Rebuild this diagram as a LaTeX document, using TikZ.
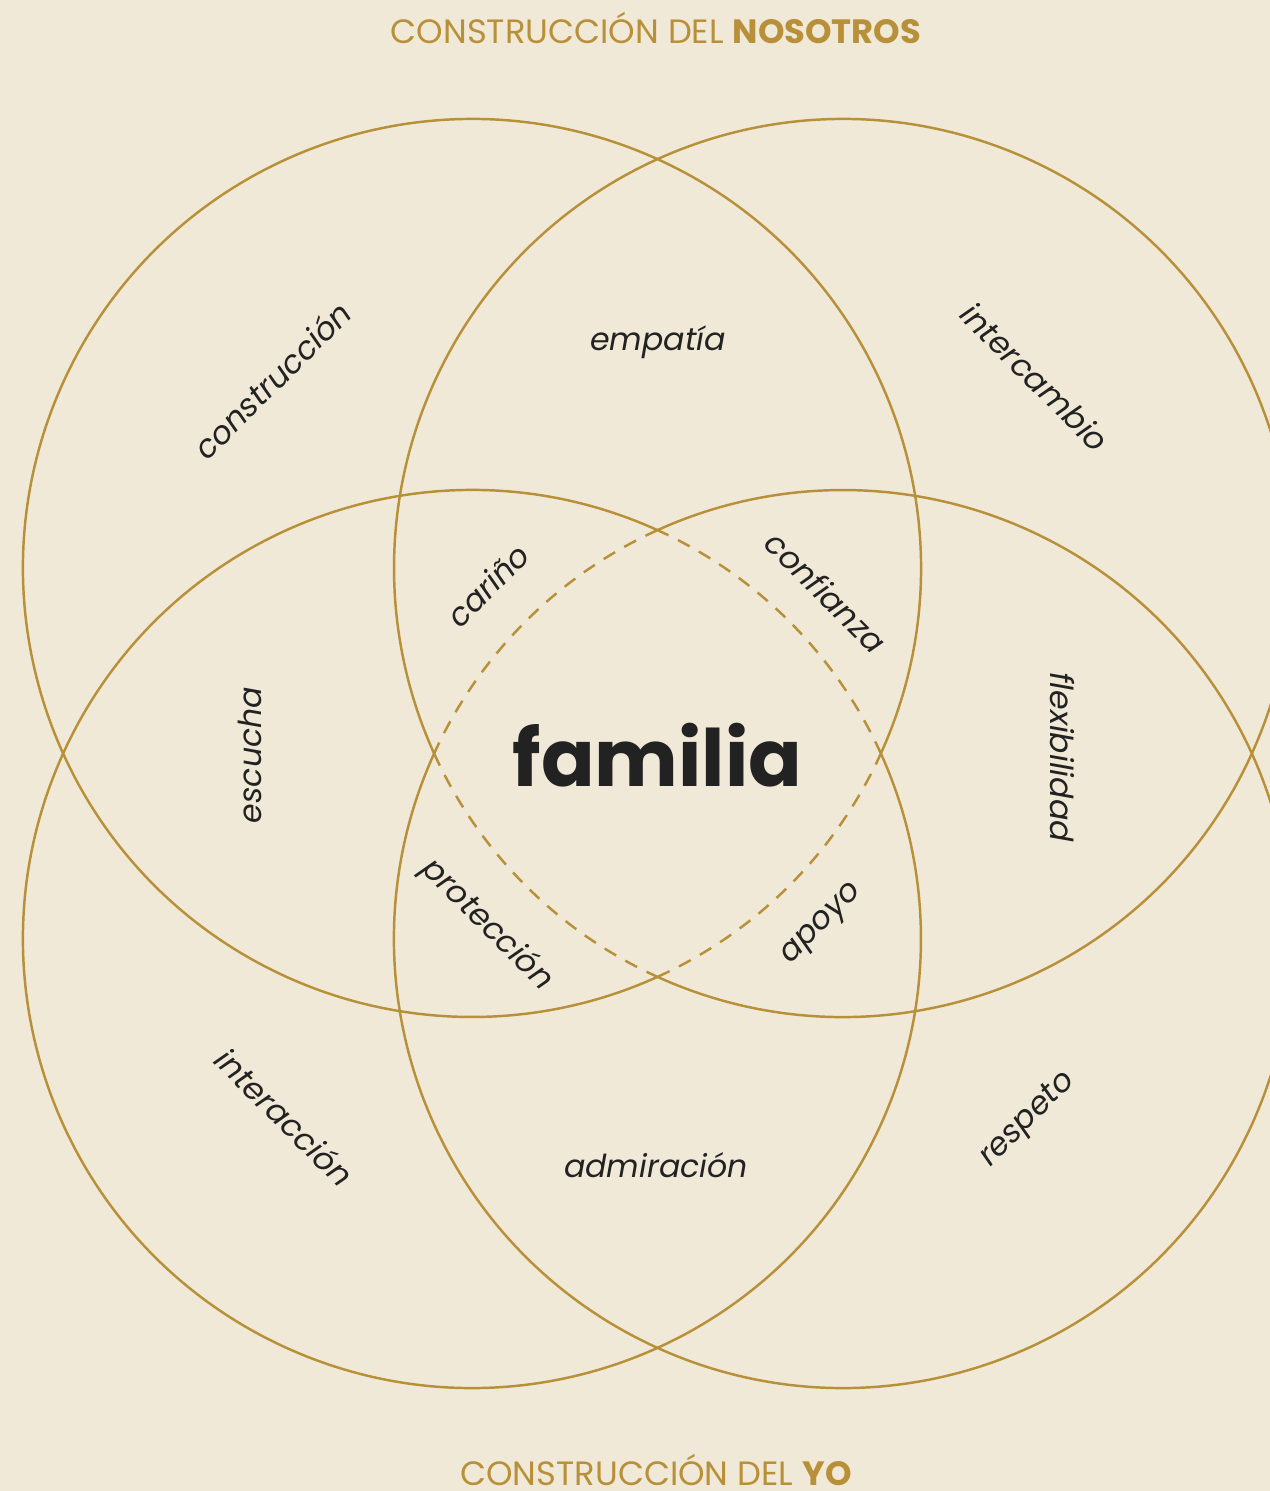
\documentclass[tikz,border=0pt]{standalone}
\usepackage{fontspec}
\setmainfont{Poppins}
\usepackage{tikz}
\usetikzlibrary{positioning}

\definecolor{gold}{HTML}{B8903A}
\definecolor{cream}{HTML}{F0E9D7}
\definecolor{ink}{HTML}{222222}

\begin{document}
\begin{tikzpicture}[
    ring/.style={draw=gold, line width=0.7pt},
    innerring/.style={draw=gold, line width=0.7pt, dash pattern=on 3.8pt off 3pt},
    word/.style={font=\fontsize{9}{9}\selectfont\itshape, text=ink, inner sep=0pt},
    heading/.style={font=\fontsize{9.6}{10}\selectfont, text=gold, anchor=base, inner sep=0pt}
]
    % fondo
    \fill[cream] (-6.575,-7.375) rectangle (6.125,7.535);
    \useasboundingbox (-6.575,-7.375) rectangle (6.125,7.535);
    \clip (-6.575,-7.375) rectangle (6.125,7.535);

    \def\r{4.49}
    \pgfmathsetmacro{\a}{asin(1.855/4.49)}
    \coordinate (tl) at (-1.855,1.855);
    \coordinate (tr) at (1.855,1.855);
    \coordinate (bl) at (-1.855,-1.855);
    \coordinate (br) at (1.855,-1.855);

    % circulos: parte exterior
    \draw[ring] (tl) ++(360-\a:\r) arc[start angle=360-\a, end angle=630+\a, radius=\r];
    \draw[ring] (tr) ++(270-\a:\r) arc[start angle=270-\a, end angle=540+\a, radius=\r];
    \draw[ring] (br) ++(180-\a:\r) arc[start angle=180-\a, end angle=450+\a, radius=\r];
    \draw[ring] (bl) ++(90-\a:\r) arc[start angle=90-\a, end angle=360+\a, radius=\r];

    % zona central
    \draw[innerring] (tl) ++(270+\a:\r) arc[start angle=270+\a, end angle=360-\a, radius=\r];
    \draw[innerring] (tr) ++(180+\a:\r) arc[start angle=180+\a, end angle=270-\a, radius=\r];
    \draw[innerring] (br) ++(90+\a:\r) arc[start angle=90+\a, end angle=180-\a, radius=\r];
    \draw[innerring] (bl) ++(\a:\r) arc[start angle=\a, end angle=90-\a, radius=\r];

    \node[heading] (nosotros) at (-0.015,7.105) {CONSTRUCCIÓN DEL \textbf{NOSOTROS}};
    \node[heading] (yo) at (-0.015,-7.32) {CONSTRUCCIÓN DEL \textbf{YO}};

    \node[font=\fontsize{22.5}{23}\selectfont\bfseries, text=ink] (familia) at (0,-0.015) {familia};

    \node[word, rotate=45] (construccion) at (-3.855,3.735) {construcción};
    \node[word] (empatia) at (0.005,4.115) {empatía};
    \node[word, rotate=-45] (intercambio) at (3.775,3.765) {intercambio};
    \node[word, rotate=45] (carino) at (-1.695,1.685) {cariño};
    \node[word, rotate=-45] (confianza) at (1.685,1.615) {confianza};
    \node[word, rotate=90] (escucha) at (-4.075,-0.015) {escucha};
    \node[word, rotate=-90] (flexibilidad) at (4.045,-0.035) {flexibilidad};
    \node[word, rotate=-45] (proteccion) at (-1.705,-1.715) {protección};
    \node[word, rotate=45] (apoyo) at (1.655,-1.715) {apoyo};
    \node[word, rotate=-45] (interaccion) at (-3.725,-3.635) {interacción};
    \node[word] (admiracion) at (-0.015,-4.115) {admiración};
    \node[word, rotate=45] (respeto) at (3.705,-3.665) {respeto};
\end{tikzpicture}
\end{document}
